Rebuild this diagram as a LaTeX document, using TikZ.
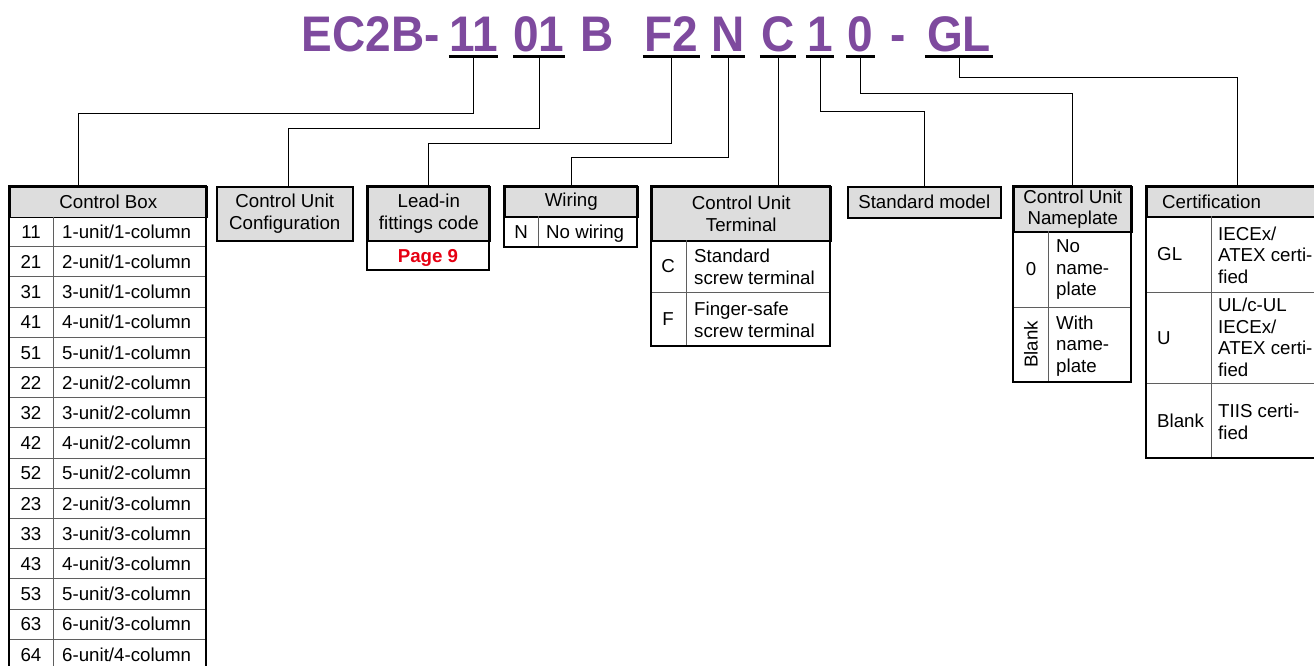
\documentclass[tikz,border=0pt]{standalone}
\usepackage{fontspec}
\setmainfont{Liberation Sans}
\newfontfamily\titlefont[FakeStretch=0.92]{Liberation Sans}
\usetikzlibrary{calc}
\definecolor{codepurple}{RGB}{126,74,158}
\definecolor{pagered}{RGB}{230,0,18}
\definecolor{hdrgray}{RGB}{221,221,221}
\definecolor{gridgray}{RGB}{95,95,95}
\newcommand\bodyfont{\fontsize{18.7}{21.5}\selectfont}

\begin{document}
\begin{tikzpicture}[x=1pt,y=-1pt,
  title/.style={font=\titlefont\bfseries\fontsize{50}{50}\selectfont,text=codepurple,inner sep=0pt,text height=35pt,text depth=0pt,anchor=base},
  ul/.style={line width=3pt},
  lead/.style={line width=0.9pt},
  hdr/.style={draw,line width=1.6pt,fill=hdrgray,anchor=north west,align=center,inner sep=0pt,font=\bodyfont},
  txt/.style={font=\bodyfont,inner sep=0pt,text height=13.4pt,text depth=0pt},
  cell/.style={txt,anchor=west},
  mcell/.style={font=\bodyfont,inner sep=0pt,align=left,anchor=west},
  frame/.style={line width=1.6pt},
  grid/.style={gridgray,line width=0.9pt}]
  \useasboundingbox (0,0) rectangle (1314,666);

  % model code
  \node[title] (tec) at (371,52) {EC2B-};
  \node[title,minimum width=47pt] (t11) at (473.5,52) {11};
  \node[title,minimum width=50pt] (t01) at (539,52) {01};
  \node[title] (tb) at (597,52) {B};
  \node[title,minimum width=57pt] (tf2) at (671.5,52) {F2};
  \node[title,minimum width=30pt] (tn) at (728,52) {N};
  \node[title,minimum width=36pt] (tc) at (778,52) {C};
  \node[title,minimum width=28pt] (t1) at (820,52) {1};
  \node[title,minimum width=28pt] (t0) at (860.5,52) {0};
  \node[title] (tdash) at (898,52) {-};
  \node[title,minimum width=68pt] (tgl) at (959,52) {GL};
  \foreach \t in {t11,t01,tf2,tn,tc,t1,t0,tgl}
    \draw[ul] ([yshift=-4.5pt]\t.south west) -- coordinate (u\t) ([yshift=-4.5pt]\t.south east);

  % Control Box
  \node[hdr,minimum width=197pt,minimum height=30.5pt] (cbox) at (9,186) {Control Box};
  \foreach \code/\desc [count=\i] in {11/{1-unit/1-column},21/{2-unit/1-column},31/{3-unit/1-column},
      41/{4-unit/1-column},51/{5-unit/1-column},22/{2-unit/2-column},32/{3-unit/2-column},
      42/{4-unit/2-column},52/{5-unit/2-column},23/{2-unit/3-column},33/{3-unit/3-column},
      43/{4-unit/3-column},53/{5-unit/3-column},63/{6-unit/3-column},64/{6-unit/4-column}}{
    \node[txt] (cbk\i) at (31,{216.5+30.2*\i-15.1}) {\code};
    \node[cell] (cbd\i) at (62,{216.5+30.2*\i-15.1}) {\desc};
    \draw[grid] (9,{216.5+30.2*\i}) -- (206,{216.5+30.2*\i});
  }
  \draw[grid] (53,216.5) -- (53,670);
  \draw[frame] (9,186) rectangle (206,670);

  % Control Unit Configuration
  \node[hdr,minimum width=136pt,minimum height=54pt] (cucfg) at (216,186) {Control Unit\\Configuration};

  % Lead-in fittings code
  \node[hdr,minimum width=122pt,minimum height=54pt] (leadin) at (367,186) {Lead-in\\fittings code};
  \node[txt,font=\bodyfont\bfseries,text=pagered] (pg9) at (428,255.5) {Page 9};
  \draw[frame] (367,186) rectangle (489,270);

  % Wiring
  \node[hdr,minimum width=133pt,minimum height=30pt] (wiring) at (504,186) {Wiring};
  \node[txt] (wn) at (521,231.5) {N};
  \node[cell] (wnd) at (546,231.5) {No wiring};
  \draw[grid] (538,216) -- (538,247);
  \draw[frame] (504,186) rectangle (637,247);

  % Control Unit Terminal
  \node[hdr,minimum width=179pt,minimum height=54pt] (cuterm) at (651,186) {Control Unit\\Terminal};
  \node[txt] (tmc) at (668,266) {C};
  \node[mcell] (tmcd) at (694,267) {Standard\\screw terminal};
  \node[txt] (tmf) at (668,319) {F};
  \node[mcell] (tmfd) at (694,320) {Finger-safe\\screw terminal};
  \draw[grid] (651,292) -- (830,292);
  \draw[grid] (686,240) -- (686,346);
  \draw[frame] (651,186) rectangle (830,346);

  % Standard model
  \node[hdr,minimum width=153pt,minimum height=31pt] (stdmodel) at (847,186) {Standard model};

  % Control Unit Nameplate
  \node[hdr,minimum width=118pt,minimum height=45pt] (cuname) at (1013,186) {Control Unit\\Nameplate};
  \node[txt] (np0) at (1031,269) {0};
  \node[mcell] (np0d) at (1056,270) {No\\name-\\plate};
  \node[txt,rotate=90] (npb) at (1031,344.5) {Blank};
  \node[mcell] (npbd) at (1056,346) {With\\name-\\plate};
  \draw[grid] (1013,307) -- (1131,307);
  \draw[grid] (1048,231) -- (1048,382);
  \draw[frame] (1013,186) rectangle (1131,382);

  % Certification
  \node[hdr,minimum width=184pt,minimum height=30pt] (cert) at (1146,186) {};
  \node[cell] (certt) at (1162,201.5) {Certification};
  \node[cell] (cgl) at (1157,254) {GL};
  \node[mcell] (cgld) at (1218,255) {IECEx/\\ATEX certi-\\fied};
  \node[cell] (cu) at (1157,337.5) {U};
  \node[mcell] (cud) at (1218,337.5) {UL/c-UL\\IECEx/\\ATEX certi-\\fied};
  \node[cell] (cbl) at (1157,421) {Blank};
  \node[mcell] (cbld) at (1218,422) {TIIS certi-\\fied};
  \draw[grid] (1146,292) -- (1330,292);
  \draw[grid] (1146,383) -- (1330,383);
  \draw[grid] (1211,216) -- (1211,458);
  \draw[frame] (1146,186) rectangle (1330,458);

  % leaders
  \draw[lead] (ut11) -- ++(0,56.5) -| ([xshift=69pt]cbox.north west);
  \draw[lead] (ut01) -- ++(0,72) -| ([xshift=72pt]cucfg.north west);
  \draw[lead] (utf2) -- ++(0,86.5) -| (leadin.north);
  \draw[lead] (utn) -- ++(0,101) -| (wiring.north);
  \draw[lead] (utc) -- (utc |- cuterm.north);
  \draw[lead] (ut1) -- ++(0,54.5) -| (stdmodel.north);
  \draw[lead] (ut0) -- ++(0,37) -| (cuname.north);
  \draw[lead] (utgl) -- ++(0,21) -| ([xshift=91pt]cert.north west);
\end{tikzpicture}
\end{document}
